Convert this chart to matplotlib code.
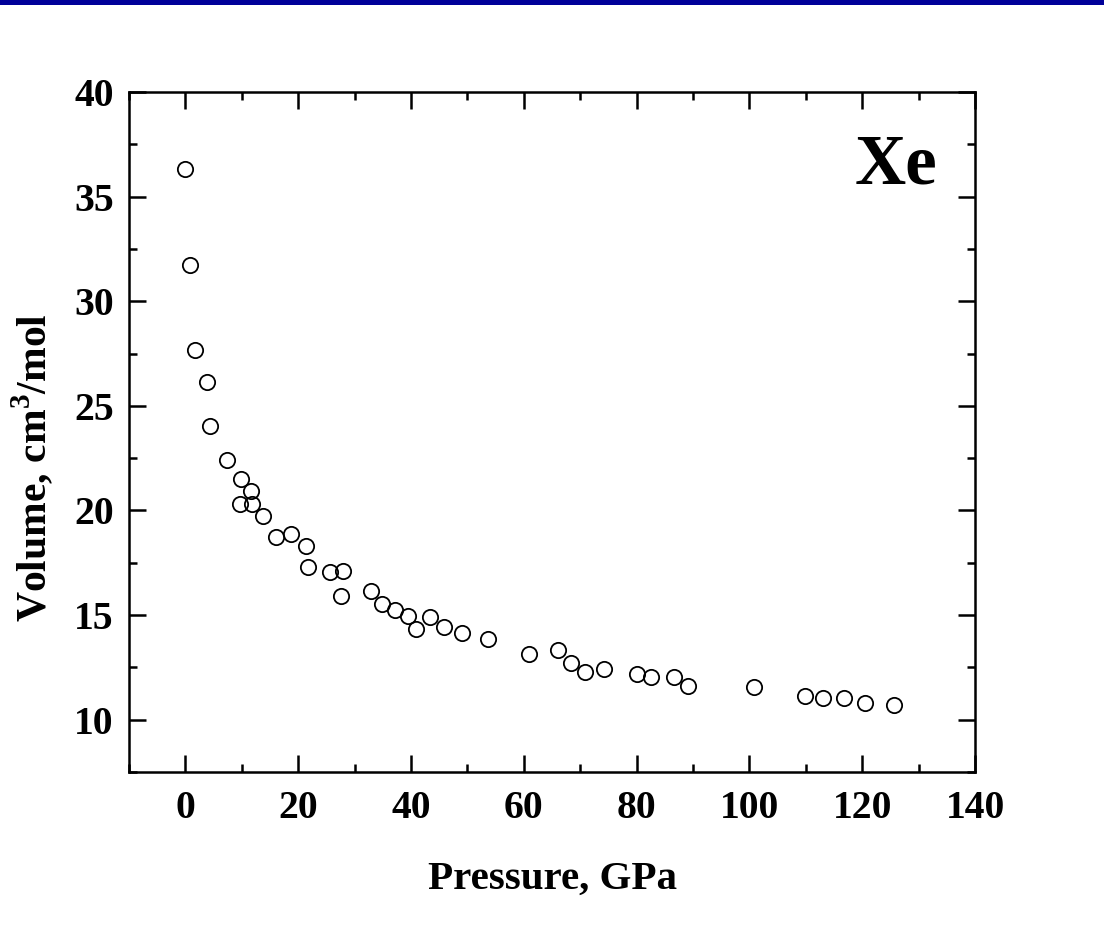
import numpy as np
import matplotlib.pyplot as plt
from matplotlib.patches import Rectangle
from matplotlib.ticker import MultipleLocator

# Xe equation of state: pressure (GPa) vs molar volume (cm3/mol)
pressure = [0.0, 0.9, 1.7, 3.9, 4.3, 7.3, 9.9, 11.6, 9.6, 11.8,
            13.8, 16.1, 18.7, 21.4, 21.8, 25.6, 28.0, 27.6, 32.9, 34.9,
            37.2, 39.4, 40.9, 43.3, 45.9, 49.1, 53.6, 60.9, 66.0, 68.3,
            70.8, 74.2, 80.1, 82.5, 86.6, 89.1, 100.9, 109.8, 113.1, 116.7,
            120.5, 125.6]
volume = [36.34, 31.74, 27.65, 26.14, 24.03, 22.43, 21.50, 20.91, 20.33, 20.33,
          19.74, 18.72, 18.89, 18.32, 17.28, 17.04, 17.12, 15.90, 16.16, 15.55,
          15.26, 14.96, 14.35, 14.93, 14.45, 14.13, 13.85, 13.15, 13.31, 12.72,
          12.28, 12.42, 12.20, 12.02, 12.02, 11.63, 11.55, 11.12, 11.04, 11.04,
          10.82, 10.72]

plt.rcParams['font.family'] = ['Liberation Serif', 'DejaVu Serif']
plt.rcParams['font.weight'] = 'bold'
plt.rcParams['mathtext.fontset'] = 'custom'
plt.rcParams['mathtext.rm'] = 'Liberation Serif:bold'
plt.rcParams['mathtext.bf'] = 'Liberation Serif:bold'

fig = plt.figure(figsize=(11.04, 9.44), dpi=100)
# blue banner along the top edge
fig.patches.append(Rectangle((0, 1 - 5/944), 1, 5/944, transform=fig.transFigure,
                             facecolor='#000099', edgecolor='none'))

ax = fig.add_axes([129/1104, 1 - 772/944, 846/1104, 680/944])
ax.plot(pressure, volume, 'o', mfc='none', mec='black', ms=11, mew=1.3)

ax.set_xlim(-10, 140)
ax.set_ylim(7.5, 40)
ax.xaxis.set_major_locator(MultipleLocator(20))
ax.xaxis.set_minor_locator(MultipleLocator(10))
ax.yaxis.set_major_locator(MultipleLocator(5))
ax.yaxis.set_minor_locator(MultipleLocator(2.5))

ax.tick_params(which='both', direction='in', top=True, right=True, width=1.8)
ax.tick_params(which='major', length=12, labelsize=28.5)
ax.tick_params(axis='x', which='major', pad=13)
ax.tick_params(axis='y', which='major', pad=11)
ax.tick_params(which='minor', length=6)
for lab in ax.get_xticklabels() + ax.get_yticklabels():
    lab.set_fontweight('bold')
for s in ax.spines.values():
    s.set_linewidth(1.8)

ax.set_xlabel('Pressure, GPa', fontsize=29.5, fontweight='bold', labelpad=24)
ax.set_ylabel(r'Volume, cm$^{3}$/mol', fontsize=30, fontweight='bold')
ax.yaxis.set_label_coords(-0.086, 0.447)

ax.text(0.956, 0.865, 'Xe', transform=ax.transAxes, fontsize=51, fontweight='bold',
        ha='right', va='baseline')

fig.savefig('out.png', dpi=100)
